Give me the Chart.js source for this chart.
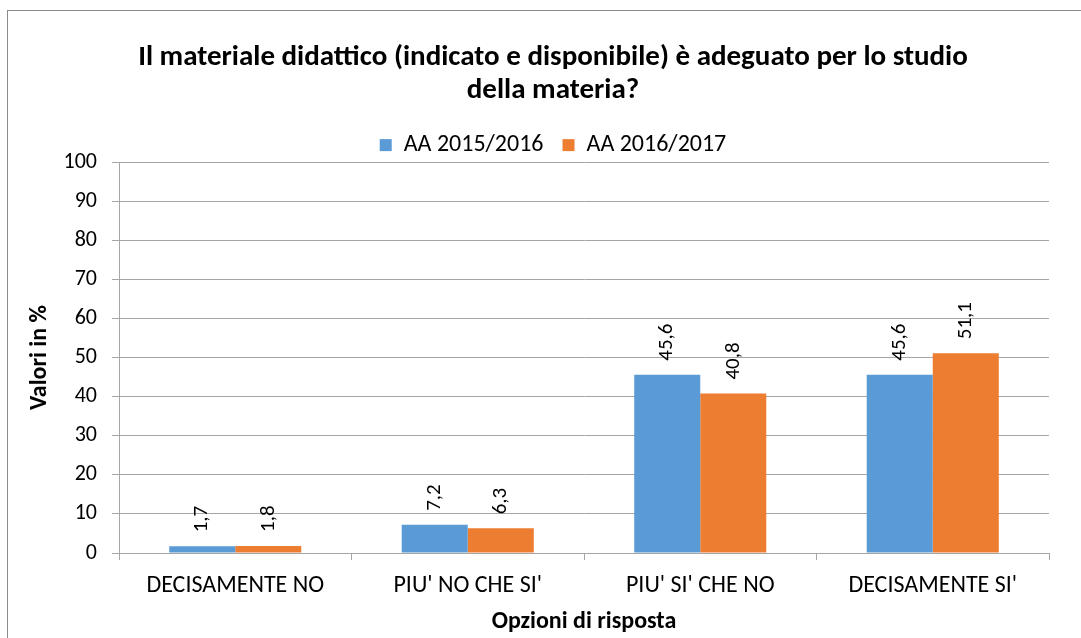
<!DOCTYPE html>
<html lang="it">
<head>
  <meta charset="UTF-8">
  <title>Materiale didattico</title>
  <script src="https://cdn.jsdelivr.net/npm/chart.js"></script>
  <style>
    html, body { margin: 0; padding: 0; background: #fff; overflow: hidden; }
    #wrap { position: relative; width: 1081px; height: 638px; }
  </style>
</head>
<body>
  <div id="wrap"><canvas id="chart" width="1081" height="638"></canvas></div>
  <script>
    const categories = ['DECISAMENTE NO', "PIU' NO CHE SI'", "PIU' SI' CHE NO", "DECISAMENTE SI'"];
    const seriesNames = ['AA 2015/2016', 'AA 2016/2017'];
    const values2015 = [1.7, 7.2, 45.6, 45.6];
    const values2016 = [1.8, 6.3, 40.8, 51.1];
    const yTicks = [0, 10, 20, 30, 40, 50, 60, 70, 80, 90, 100];

    const FONT = "Carlito, Lato, sans-serif";
    const GRID = '#a6a6a6';

    // outer frame of the chart
    const framePlugin = {
      id: 'frame',
      beforeDraw(chart) {
        const ctx = chart.ctx;
        ctx.save();
        ctx.fillStyle = '#fff';
        ctx.fillRect(0, 0, chart.width, chart.height);
        ctx.strokeStyle = '#8c8c8c';
        ctx.lineWidth = 1;
        ctx.strokeRect(7.5, 10.5, chart.width + 20, chart.height + 20);
        ctx.restore();
      }
    };

    // rotated value labels above the bars
    const valueLabels = {
      id: 'valueLabels',
      afterDatasetsDraw(chart) {
        const ctx = chart.ctx;
        ctx.save();
        ctx.font = '21px ' + FONT;
        ctx.fillStyle = '#000';
        ctx.textAlign = 'left';
        ctx.textBaseline = 'middle';
        chart.data.datasets.forEach((ds, i) => {
          chart.getDatasetMeta(i).data.forEach((bar, j) => {
            ctx.save();
            ctx.translate(bar.x, bar.y - 14);
            ctx.rotate(-Math.PI / 2);
            ctx.fillText(ds.data[j].toFixed(1).replace('.', ','), 0, 0);
            ctx.restore();
          });
        });
        ctx.restore();
      }
    };

    new Chart(document.getElementById('chart'), {
      type: 'bar',
      data: {
        labels: categories,
        datasets: [
          { label: seriesNames[0], data: values2015, backgroundColor: '#5b9bd5' },
          { label: seriesNames[1], data: values2016, backgroundColor: '#ed7d31' }
        ]
      },
      options: {
        responsive: false,
        animation: false,
        events: [],
        categoryPercentage: 0.568,
        barPercentage: 1,
        layout: { padding: { left: 57, right: 32, top: 10, bottom: 0 } },
        plugins: {
          title: {
            display: true,
            text: ['Il materiale didattico (indicato e disponibile) è adeguato per lo studio', 'della materia?'],
            color: '#000',
            font: { family: FONT, size: 29, weight: 'bold', lineHeight: 1.14 },
            padding: { top: 31, bottom: 7 }
          },
          legend: {
            position: 'top',
            maxHeight: 48,
            labels: {
              color: '#000',
              font: { family: FONT, size: 24 },
              boxWidth: 12,
              boxHeight: 12,
              padding: 19
            }
          },
          tooltip: { enabled: false }
        },
        scales: {
          x: {
            grid: { display: true, drawOnChartArea: false, drawTicks: true, tickLength: 7, color: GRID },
            border: { display: true, color: GRID },
            ticks: { color: '#000', font: { family: FONT, size: 24 }, padding: 12, maxRotation: 0 },
            title: {
              display: true,
              text: 'Opzioni di risposta',
              color: '#000',
              font: { family: FONT, size: 24, weight: 'bold' },
              padding: { top: 0, bottom: 2 }
            },
            afterFit(scale) { scale.height = 85; }
          },
          y: {
            min: 0,
            max: 100,
            afterBuildTicks(scale) { scale.ticks = yTicks.map(v => ({ value: v })); },
            grid: { color: GRID, tickLength: 7 },
            border: { display: true, color: GRID },
            ticks: { color: '#000', font: { family: FONT, size: 22 }, padding: 15 },
            title: {
              display: true,
              text: 'Valori in %',
              color: '#000',
              font: { family: FONT, size: 24, weight: 'bold' },
              padding: { top: -31, bottom: 0 }
            },
            afterFit(scale) { scale.width = 62; }
          }
        }
      },
      plugins: [framePlugin, valueLabels]
    });
  </script>
</body>
</html>
